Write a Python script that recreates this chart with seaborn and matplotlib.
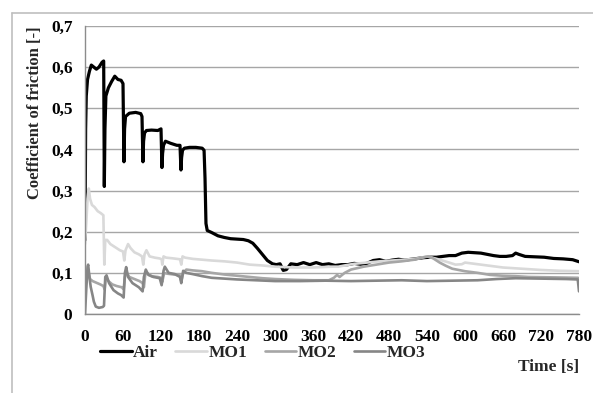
import numpy as np
import pandas as pd
import seaborn as sns
import matplotlib.pyplot as plt
from matplotlib.lines import Line2D

# Time [s] and coefficient of friction
air_t = [0, 1, 2, 4, 7, 10, 14, 18, 22, 27, 29.5, 30.5, 31.5, 33, 37, 42, 47, 52, 57, 60,
         61.5, 62.5, 64, 70, 80, 88, 90, 91.5, 92.5, 94, 97, 105, 115, 120, 121.5, 122.5,
         124, 127, 135, 145, 150, 151.5, 152.5, 154, 157, 165, 175, 185, 188, 189.5, 191,
         193, 200, 210, 220, 230, 240, 250, 258, 265, 272, 280, 288, 296, 302, 308, 313,
         318, 325, 335, 345, 355, 365, 375, 385, 395, 405, 415, 425, 435, 445, 455, 465,
         475, 485, 495, 505, 515, 525, 535, 545, 555, 565, 575, 585, 595, 605, 615, 625,
         635, 645, 655, 665, 675, 680, 685, 695, 710, 725, 740, 755, 770, 780]
air_v = [0.18, 0.45, 0.53, 0.57, 0.59, 0.605, 0.6, 0.595, 0.6, 0.612, 0.615, 0.31, 0.45,
         0.53, 0.55, 0.565, 0.578, 0.57, 0.568, 0.56, 0.37, 0.45, 0.48, 0.488, 0.49, 0.487,
         0.48, 0.37, 0.42, 0.44, 0.446, 0.447, 0.446, 0.45, 0.356, 0.39, 0.41, 0.42, 0.415,
         0.41, 0.41, 0.35, 0.38, 0.398, 0.403, 0.405, 0.405, 0.403, 0.398, 0.33, 0.22, 0.203,
         0.198, 0.19, 0.186, 0.183, 0.182, 0.181, 0.178, 0.172, 0.16, 0.145, 0.13, 0.122,
         0.12, 0.122, 0.106, 0.108, 0.122, 0.12, 0.125, 0.12, 0.125, 0.12, 0.122, 0.118,
         0.12, 0.12, 0.123, 0.121, 0.123, 0.13, 0.132, 0.128, 0.131, 0.133, 0.131, 0.133,
         0.135, 0.137, 0.138, 0.138, 0.14, 0.142, 0.142, 0.148, 0.15, 0.149, 0.148, 0.145,
         0.142, 0.14, 0.14, 0.142, 0.148, 0.145, 0.14, 0.139, 0.138, 0.135, 0.134, 0.132,
         0.127]

mo1_t = [0, 2, 4, 6, 8, 11, 15, 20, 25, 29, 30.5, 32, 35, 40, 45, 50, 55, 60, 62, 64, 68,
         72, 78, 85, 90, 92, 94, 97, 102, 110, 118, 121, 122, 124, 128, 140, 150, 152, 154,
         158, 170, 185, 200, 220, 240, 260, 280, 300, 330, 360, 390, 400, 410, 425, 445,
         465, 485, 505, 525, 540, 548, 560, 575, 585, 595, 600, 615, 635, 660, 690, 720,
         750, 780]
mo1_v = [0.17, 0.22, 0.28, 0.305, 0.28, 0.265, 0.26, 0.25, 0.245, 0.24, 0.12, 0.18, 0.18,
         0.17, 0.165, 0.16, 0.155, 0.152, 0.13, 0.155, 0.17, 0.16, 0.15, 0.145, 0.14, 0.12,
         0.145, 0.155, 0.14, 0.137, 0.135, 0.133, 0.12, 0.14, 0.137, 0.135, 0.133, 0.12,
         0.14, 0.137, 0.134, 0.132, 0.13, 0.128, 0.125, 0.12, 0.118, 0.115, 0.113, 0.113,
         0.115, 0.115, 0.118, 0.122, 0.125, 0.128, 0.13, 0.132, 0.135, 0.14, 0.137, 0.132,
         0.125, 0.12, 0.121, 0.125, 0.122, 0.118, 0.113, 0.11, 0.107, 0.105, 0.104]

mo2_t = [0, 3, 5, 8, 12, 18, 24, 29, 31, 33, 37, 43, 50, 58, 61, 63, 66, 70, 78, 86, 91,
         93, 95, 98, 105, 115, 120, 122, 125, 130, 140, 150, 152, 155, 160, 170, 185, 200,
         220, 240, 260, 280, 300, 330, 360, 385, 393, 398, 402, 410, 420, 440, 460, 480,
         500, 520, 535, 542, 550, 560, 570, 580, 600, 620, 640, 660, 680, 700, 740, 778,
         780]
mo2_v = [0.05, 0.1, 0.105, 0.085, 0.08, 0.076, 0.072, 0.068, 0.06, 0.09, 0.08, 0.072, 0.068,
         0.065, 0.06, 0.09, 0.1, 0.09, 0.085, 0.08, 0.075, 0.065, 0.095, 0.1, 0.092, 0.09,
         0.088, 0.078, 0.1, 0.098, 0.096, 0.094, 0.08, 0.1, 0.108, 0.106, 0.104, 0.1, 0.096,
         0.093, 0.09, 0.087, 0.085, 0.083, 0.082, 0.082, 0.088, 0.095, 0.09, 0.1, 0.108,
         0.115, 0.12, 0.125, 0.128, 0.132, 0.138, 0.14, 0.135, 0.125, 0.117, 0.11, 0.104,
         0.1, 0.095, 0.093, 0.092, 0.09, 0.089, 0.088, 0.087]

mo3_t = [0, 2, 4, 5, 7, 9, 12, 14, 17, 22, 28, 30, 32, 34, 38, 45, 52, 57, 61, 63, 65, 68,
         75, 85, 91, 93, 96, 100, 108, 118, 121, 124, 126, 132, 142, 150, 152, 155, 160,
         170, 185, 200, 220, 240, 270, 300, 340, 380, 420, 460, 500, 540, 580, 620, 650,
         680, 720, 760, 778, 779, 780]
mo3_v = [0.0, 0.06, 0.115, 0.12, 0.09, 0.066, 0.045, 0.03, 0.018, 0.015, 0.017, 0.02, 0.09,
         0.094, 0.075, 0.058, 0.05, 0.046, 0.04, 0.1, 0.114, 0.09, 0.075, 0.065, 0.055,
         0.09, 0.108, 0.095, 0.09, 0.087, 0.07, 0.105, 0.115, 0.1, 0.097, 0.09, 0.075,
         0.105, 0.1, 0.097, 0.092, 0.088, 0.086, 0.084, 0.082, 0.08, 0.08, 0.081, 0.08,
         0.081, 0.082, 0.08, 0.081, 0.082, 0.085, 0.087, 0.086, 0.085, 0.084, 0.07, 0.055]

series = [("Air", air_t, air_v, "#000000", 2.3),
          ("MO1", mo1_t, mo1_v, "#d9d9d9", 1.9),
          ("MO2", mo2_t, mo2_v, "#a6a6a6", 1.9),
          ("MO3", mo3_t, mo3_v, "#868686", 1.9)]

sns.set_style("white")
plt.rcParams['font.family'] = ['Liberation Serif', 'DejaVu Serif']
plt.rcParams['font.weight'] = 'bold'

fig = plt.figure(figsize=(5.93, 3.93), dpi=100)
ax = fig.add_axes([85 / 593, 1 - 314 / 393, 494 / 593, 288 / 393])

for name, t, v, col, lw in series:
    df = pd.DataFrame({"t": t, "v": v})
    sns.lineplot(data=df, x="t", y="v", ax=ax, color=col, lw=lw, label=name,
                 estimator=None, sort=False)

fs = 12.5
ax.set_xlim(0, 780)
ax.set_ylim(0, 0.7)
ax.set_xticks(np.arange(0, 781, 60))
ax.set_yticks(np.arange(0, 0.71, 0.1))
ax.set_yticklabels(["0"] + [f"0,{i}" for i in range(1, 8)])
ax.tick_params(axis="both", labelsize=fs, colors="#000000")
ax.tick_params(axis="x", length=5, width=1, color="#8c8c8c", direction="out", pad=6)
ax.tick_params(axis="y", length=4, width=1, color="#8c8c8c", direction="out", pad=5)
for lab in ax.get_xticklabels() + ax.get_yticklabels():
    lab.set_fontweight("bold")

ax.grid(axis="y", color="#a6a6a6", lw=1)
ax.set_axisbelow(True)
for s in ["top", "right"]:
    ax.spines[s].set_visible(False)
for s in ["left", "bottom"]:
    ax.spines[s].set_color("#8c8c8c")
    ax.spines[s].set_linewidth(1)

ax.set_xlabel("")
ax.set_ylabel("Coefficient of friction [-]", fontsize=12, fontweight="bold")
ax.yaxis.set_label_coords(-0.085, 0.70)
ax.text(1.0, -0.185, "Time [s]", transform=ax.transAxes, ha="right", va="center",
        fontsize=fs, fontweight="bold")

handles, labels = ax.get_legend_handles_labels()
ax.legend(handles, labels, loc="center", bbox_to_anchor=(0.36, -0.135), ncol=4,
          frameon=False, handlelength=1.8, handletextpad=0.1,
          columnspacing=1.0, prop={"weight": "bold", "size": fs})

# outer chart-area border (top and left edges visible)
fig.add_artist(Line2D([12 / 593, 1], [1 - 13 / 393, 1 - 13 / 393], color="#bfbfbf", lw=1.2))
fig.add_artist(Line2D([12 / 593, 12 / 593], [0, 1 - 13 / 393], color="#bfbfbf", lw=1.2))

fig.savefig("out.png", dpi=100)
